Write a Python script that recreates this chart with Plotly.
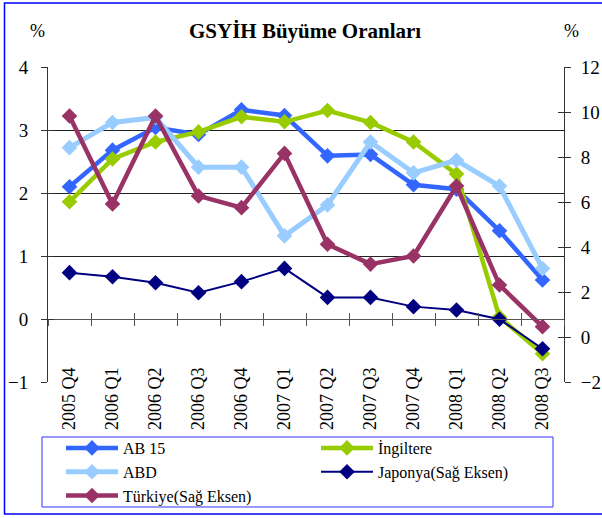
import plotly.graph_objects as go

categories = ["2005 Q4", "2006 Q1", "2006 Q2", "2006 Q3", "2006 Q4", "2007 Q1",
              "2007 Q2", "2007 Q3", "2007 Q4", "2008 Q1", "2008 Q2", "2008 Q3"]

ab15 = [2.10, 2.68, 3.04, 2.93, 3.32, 3.23, 2.59, 2.61, 2.13, 2.06, 1.40, 0.62]
ingiltere = [1.86, 2.54, 2.81, 2.97, 3.21, 3.13, 3.31, 3.12, 2.81, 2.30, 0.03, -0.55]
abd = [2.72, 3.12, 3.20, 2.41, 2.41, 1.32, 1.81, 2.81, 2.32, 2.52, 2.11, 0.80]
japonya = [2.86, 2.68, 2.41, 1.97, 2.46, 3.05, 1.76, 1.76, 1.35, 1.20, 0.79, -0.52]
turkiye = [9.82, 5.91, 9.82, 6.27, 5.75, 8.16, 4.12, 3.24, 3.60, 6.71, 2.31, 0.46]

left_ticks = [-1, 0, 1, 2, 3, 4]
right_ticks = [-2, 0, 2, 4, 6, 8, 10, 12]
grid_vals = [1, 2, 3]

FONT = "Liberation Serif"

fig = go.Figure()

def add_series(name, vals, color, width, yaxis, msize=12):
    fig.add_trace(go.Scatter(
        x=categories, y=vals, name=name, mode="lines+markers", yaxis=yaxis,
        line=dict(color=color, width=width),
        marker=dict(symbol="diamond", size=msize, color=color),
    ))

add_series("AB 15", ab15, "#3366FF", 4.5, "y")
add_series("İngiltere", ingiltere, "#99CC00", 4.5, "y")
add_series("ABD", abd, "#99CCFF", 5, "y")
add_series("Japonya(Sağ Eksen)", japonya, "#000080", 2, "y2")
add_series("Türkiye(Sağ Eksen)", turkiye, "#993366", 4.5, "y2")

# dummy traces so helper axes are drawn
dummy = dict(x=categories, y=[None] * len(categories), showlegend=False,
             hoverinfo="skip", mode="lines")
fig.add_trace(go.Scatter(xaxis="x2", yaxis="y3", **dummy))
fig.add_trace(go.Scatter(xaxis="x3", yaxis="y4", **dummy))
fig.add_trace(go.Scatter(xaxis="x", yaxis="y5", **dummy))

cat_common = dict(type="category", categoryorder="array", categoryarray=categories,
                  range=[-0.5, len(categories) - 0.5], showgrid=False, zeroline=False,
                  fixedrange=True, automargin=False)

fig.update_layout(
    width=602, height=518,
    margin=dict(l=48, r=38, t=67, b=136, autoexpand=False),
    paper_bgcolor="white", plot_bgcolor="white",
    font=dict(family=FONT, color="black"),
    showlegend=True,
    xaxis=dict(**cat_common, anchor="free", position=0.2, showline=True,
               linecolor="#555555", linewidth=1, ticks="outside", tickson="boundaries",
               ticklen=6, tickcolor="#555555", showticklabels=False),
    xaxis2=dict(**cat_common, overlaying="x", anchor="free", position=0.2,
                showline=False, ticks="inside", tickson="boundaries", ticklen=6,
                tickcolor="#555555", showticklabels=False),
    xaxis3=dict(**cat_common, overlaying="x", anchor="free", position=0.2,
                showline=False, ticks="", showticklabels=True, tickangle=-90,
                ticklabelstandoff=44, tickfont=dict(size=18, family=FONT)),
    yaxis=dict(range=[-1, 4], tickvals=left_ticks, showline=True, linecolor="#333333",
               linewidth=1, ticks="outside", ticklen=6, tickcolor="#333333",
               showgrid=False, zeroline=False, tickfont=dict(size=19, family=FONT),
               ticklabelstandoff=9, fixedrange=True, automargin=False),
    yaxis2=dict(range=[-2, 12], tickvals=right_ticks, overlaying="y", side="right",
                showline=True, linecolor="#333333", linewidth=1, ticks="outside",
                ticklen=6, tickcolor="#333333", showgrid=False, zeroline=False,
                tickfont=dict(size=19, family=FONT), ticklabelstandoff=6, fixedrange=True,
                automargin=False),
    yaxis3=dict(range=[-1, 4], tickvals=grid_vals, overlaying="y", showgrid=True,
                gridcolor="#222222", gridwidth=1, showticklabels=False, ticks="",
                showline=False, zeroline=False, fixedrange=True),
    yaxis4=dict(range=[-1, 4], tickvals=left_ticks, overlaying="y", side="left",
                ticks="inside", ticklen=6, tickcolor="#333333", showticklabels=False,
                showgrid=False, zeroline=False, showline=False, fixedrange=True),
    yaxis5=dict(range=[-2, 12], tickvals=right_ticks, overlaying="y", side="right",
                ticks="inside", ticklen=6, tickcolor="#333333", showticklabels=False,
                showgrid=False, zeroline=False, showline=False, fixedrange=True),
    legend=dict(orientation="h", x=0.0252, y=-0.1556, xanchor="left", yanchor="top",
                borderwidth=0, bgcolor="rgba(0,0,0,0)",
                font=dict(size=16, family=FONT), entrywidth=188, entrywidthmode="pixels",
                itemwidth=52, tracegroupgap=0),
    annotations=[
        dict(text="<b>GSYİH Büyüme Oranları</b>", x=0.498, y=1.114, xref="paper",
             yref="paper", showarrow=False, xanchor="center", yanchor="middle",
             font=dict(size=21, family=FONT)),
        dict(text="%", x=-0.0194, y=1.114, xref="paper", yref="paper", showarrow=False,
             xanchor="center", yanchor="middle", font=dict(size=18, family=FONT)),
        dict(text="%", x=1.0136, y=1.114, xref="paper", yref="paper", showarrow=False,
             xanchor="center", yanchor="middle", font=dict(size=18, family=FONT)),
    ],
    shapes=[
        dict(type="rect", xref="paper", yref="paper", x0=-0.0843, x1=1.12,
             y0=-0.419, y1=1.203, line=dict(color="#0000FF", width=1.5),
             fillcolor="rgba(0,0,0,0)", layer="below"),
        dict(type="rect", xref="paper", yref="paper", x0=-0.0116, x1=0.9787,
             y0=-0.3968, y1=-0.1746, line=dict(color="#3333FF", width=1),
             fillcolor="rgba(0,0,0,0)", layer="above"),
    ],
)

fig.write_html("out.html", config={"displayModeBar": False},
               post_script="document.body.style.margin='0';")
